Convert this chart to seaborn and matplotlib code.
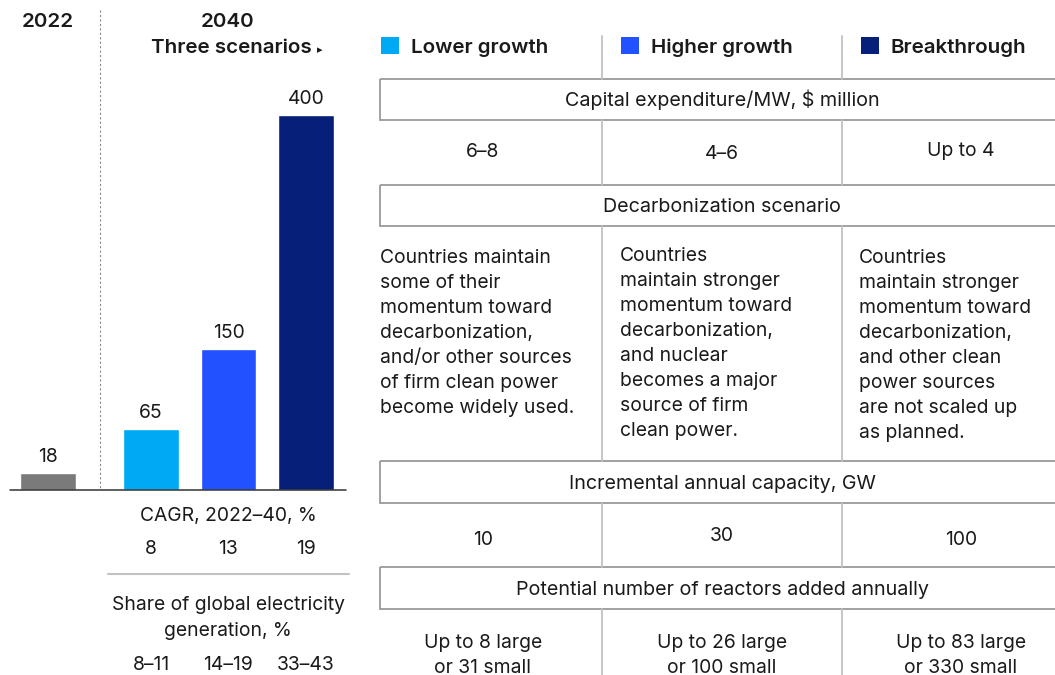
import matplotlib
matplotlib.use("Agg")
import matplotlib.pyplot as plt
from matplotlib.patches import Rectangle
import seaborn as sns
import pandas as pd

# ---- data ----
bar_labels = ["2022", "Lower growth", "Higher growth", "Breakthrough"]
capacity_gw = [18, 65, 150, 400]
scenarios = ["Lower growth", "Higher growth", "Breakthrough"]
cagr_pct = [8, 13, 19]
share_pct = ["8–11", "14–19", "33–43"]
capex_per_mw = ["6–8", "4–6", "Up to 4"]
incremental_gw = [10, 30, 100]
reactors_added = [
    ["Up to 8 large", "or 31 small"],
    ["Up to 26 large", "or 100 small"],
    ["Up to 83 large", "or 330 small"],
]
scenario_text = [
    ["Countries maintain", "some of their", "momentum toward", "decarbonization,",
     "and/or other sources", "of firm clean power", "become widely used."],
    ["Countries", "maintain stronger", "momentum toward", "decarbonization,",
     "and nuclear", "becomes a major", "source of firm", "clean power."],
    ["Countries", "maintain stronger", "momentum toward", "decarbonization,",
     "and other clean", "power sources", "are not scaled up", "as planned."],
]

# ---- style ----
sns.set_theme(style="white")
plt.rcParams["font.family"] = ["Inter", "DejaVu Sans"]
TXT = "#1a1a1a"
colors = {"2022": "#7a7a7a", "Lower growth": "#00a9f4",
          "Higher growth": "#2251ff", "Breakthrough": "#061f79"}
BOX = "#9a9a9a"
SEP = "#c2c2c2"
FS = 13.9
FS_BOX = 14.2
FS_BOLD = 14.8

W, H = 1055, 675
fig = plt.figure(figsize=(W / 100, H / 100), dpi=100)

# ---- bar chart ----
bar_pos = [0.0, 1.33, 2.33, 3.33]
df = pd.DataFrame({"pos": bar_pos, "capacity": capacity_gw, "label": bar_labels})
base_px, top_px = 490, 90
ax = fig.add_axes([0, (H - base_px) / H, 355 / W, (base_px - top_px) / H])
sns.barplot(data=df, x="pos", y="capacity", hue="label", palette=colors,
            native_scale=True, width=0.72, dodge=False, legend=False,
            saturation=1, ax=ax)
ax.set_ylim(0, 400 / 0.9375 * (base_px - top_px) / 400)
ax.set_xlim(-48 / 77.5, (355 - 48) / 77.5)
for cont in ax.containers:
    ax.bar_label(cont, padding=5, fontsize=FS, color=TXT)
ax.axis("off")

# ---- overlay for text and table (pixel coordinates) ----
ov = fig.add_axes([0, 0, 1, 1], zorder=3)
ov.set_xlim(0, W)
ov.set_ylim(H, 0)
ov.axis("off")
ov.patch.set_alpha(0)

def txt(x, y, s, ha="center", size=FS, weight="normal", **kw):
    return ov.text(x, y, s, ha=ha, va="baseline", fontsize=size, weight=weight,
                   color=TXT, **kw)

# left header
txt(48, 27, "2022", size=FS_BOLD, weight="semibold")
txt(228, 27, "2040", size=FS_BOLD, weight="semibold")
t = txt(151, 53, "Three scenarios", ha="left", size=FS_BOLD, weight="semibold")
ov.annotate("▸", xy=(1, 0), xycoords=t, xytext=(4, 1.5),
            textcoords="offset points", ha="left", va="bottom",
            fontsize=8, color=TXT, family="DejaVu Sans")

# divider and baseline
ov.plot([100, 100], [10, 490], color="#8a8a8a", lw=0.8, ls=(0, (2, 2)))
ov.plot([10, 346], [490, 490], color="#333333", lw=1.1)

# CAGR and share rows under the bars
centers = [151, 228, 306]
txt(228, 521, "CAGR, 2022–40, %")
for x, v in zip(centers, cagr_pct):
    txt(x, 554, f"{v}")
ov.plot([108, 349], [574, 574], color=SEP, lw=1.5)
txt(228, 610, "Share of global electricity")
txt(228, 636, "generation, %")
for x, v in zip(centers, share_pct):
    txt(x, 670, v)

# ---- table ----
col_sep = [602, 842]
col_centers = [483, 722, 961]
legend_x = [381, 621, 861]
for x, name in zip(legend_x, scenarios):
    ov.add_patch(Rectangle((x, 37), 18, 17, color=colors[name], lw=0))
    txt(x + 30, 53, name, ha="left", size=FS_BOLD, weight="semibold")

for y0, y1 in [(36, 79), (120, 185), (226, 461), (503, 567), (609, 676)]:
    for x in col_sep:
        ov.plot([x, x], [y0, y1], color=SEP, lw=1.3)

boxes = [(79, 120, "Capital expenditure/MW, $ million"),
         (185, 226, "Decarbonization scenario"),
         (461, 503, "Incremental annual capacity, GW"),
         (567, 609, "Potential number of reactors added annually")]
for y0, y1, label in boxes:
    ov.add_patch(Rectangle((380, y0), 700, y1 - y0, fill=False,
                           edgecolor=BOX, lw=1.3))
    txt(722, (y0 + y1) / 2 + 7, label, size=FS_BOX)

for x, v, y in zip(col_centers, capex_per_mw, [157, 159, 156]):
    txt(x, y, v)

para_x = [380, 620, 859]
para_y0 = [263, 261, 263]
for x, y0, lines in zip(para_x, para_y0, scenario_text):
    for i, line in enumerate(lines):
        txt(x, y0 + 25 * i, line, ha="left")

for x, v, y in zip(col_centers, incremental_gw, [545, 541, 545]):
    txt(x, y, f"{v}")

for x, lines in zip(col_centers, reactors_added):
    txt(x, 648, lines[0])
    txt(x, 673, lines[1])

fig.savefig("out.png", dpi=100, facecolor="white")
